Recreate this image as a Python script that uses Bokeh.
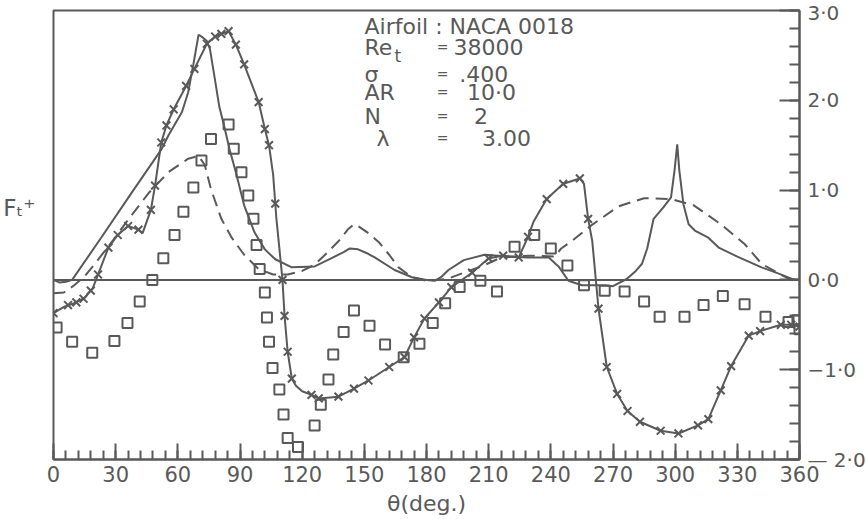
from bokeh.plotting import figure
from bokeh.models import Range1d, FixedTicker, Span, Label, LinearAxis
from bokeh.embed import file_html
from bokeh.resources import INLINE

# ---------------- data ----------------
# theory curve A : solid line, no markers
sol_x = [0, 3, 6, 9, 23, 38, 52, 55.5, 62, 65, 67.5, 70, 72, 74, 75.5, 77.7, 80, 82.5, 85, 88,
         92, 97, 102, 107, 115, 126, 134, 140, 143, 147, 151, 155, 164.6, 173, 180, 184, 187,
         190.6, 198, 208, 219.6, 229, 239, 243.7, 248.5, 255, 266, 270, 276.6, 281, 284, 286.5,
         289.6, 294.4, 298, 299.7, 301, 302, 304, 306.5, 309.5, 316, 321, 330, 341.7, 350, 357.6, 360]
sol_y = [0.00, -0.03, -0.02, 0.00, 0.47, 0.98, 1.45, 1.61, 1.87, 2.09, 2.40, 2.73, 2.70, 2.66, 2.57,
         2.26, 1.93, 1.70, 1.45, 1.20, 0.83, 0.53, 0.34, 0.23, 0.14, 0.15, 0.24, 0.31, 0.35, 0.34,
         0.30, 0.25, 0.11, 0.03, 0.00, -0.01, 0.03, 0.11, 0.22, 0.28, 0.26, 0.25, 0.25, 0.15, -0.01,
         -0.06, -0.06, -0.07, 0.01, 0.10, 0.18, 0.35, 0.68, 0.81, 0.92, 1.22, 1.51, 1.22, 0.84, 0.62,
         0.55, 0.47, 0.36, 0.26, 0.14, 0.07, 0.00, 0.00]

# theory curve B : dashed line
dash_x = [0, 5, 10, 15, 20, 25, 30, 36, 46, 55.5, 65, 70, 73, 76, 81, 86, 92, 99, 106, 113, 120,
          126, 132, 137.5, 142, 145, 147, 152, 157, 162, 166.5, 173, 180, 190, 198, 206.6, 216,
          230, 242, 245, 250, 259.7, 272.7, 285, 298, 309, 322, 333.5, 341.7, 350, 356, 360]
dash_y = [-0.15, -0.14, -0.06, 0.04, 0.18, 0.33, 0.48, 0.67, 0.97, 1.20, 1.35, 1.38, 1.28, 1.01,
          0.68, 0.47, 0.28, 0.12, 0.06, 0.06, 0.10, 0.17, 0.30, 0.43, 0.56, 0.62, 0.60, 0.52, 0.42,
          0.28, 0.14, 0.03, -0.01, 0.01, 0.08, 0.15, 0.25, 0.27, 0.26, 0.35, 0.43, 0.61, 0.82, 0.91,
          0.90, 0.83, 0.62, 0.40, 0.18, 0.07, 0.00, -0.02]

# theory curve C : solid line with x markers
cx_x = [0, 5, 10, 15, 19, 22, 26.5, 31, 36, 41, 43, 47, 49, 52, 54.5, 58, 64, 68, 74, 78, 84.5, 88,
        92, 99, 102, 104, 106, 107.5, 109, 110.5, 111.5, 113, 115, 117, 120, 124.5, 128, 137.5, 145,
        152, 162, 169.4, 174, 179, 186, 192, 202, 210, 217, 224.5, 229, 231.7, 238, 246, 254, 256,
        258, 260, 263, 267, 272, 277, 283, 293, 301.6, 311, 316, 322, 327, 335.5, 341, 351, 356, 360]
cx_y = [-0.37, -0.30, -0.26, -0.20, -0.09, 0.09, 0.36, 0.50, 0.60, 0.56, 0.52, 0.78, 1.05, 1.53,
        1.72, 1.90, 2.16, 2.35, 2.63, 2.71, 2.77, 2.62, 2.40, 1.98, 1.68, 1.50, 1.17, 0.70, 0.35,
        0.00, -0.40, -0.80, -1.10, -1.18, -1.24, -1.28, -1.32, -1.30, -1.21, -1.12, -0.97, -0.86,
        -0.64, -0.43, -0.25, -0.08, 0.08, 0.24, 0.27, 0.25, 0.48, 0.65, 0.90, 1.07, 1.13, 1.07,
        0.68, 0.43, -0.32, -0.97, -1.27, -1.46, -1.58, -1.68, -1.71, -1.62, -1.55, -1.23, -0.96,
        -0.62, -0.57, -0.50, -0.50, -0.52]
mk_x = [0, 7, 11, 14.5, 18, 21.5, 26.5, 31, 36, 41, 47, 49, 52, 54.5, 58, 64, 68, 74, 78, 81, 84.5,
        88, 92, 99, 102, 104, 107, 110.5, 111.5, 113, 115, 124.5, 128, 137.5, 145, 152, 162, 169.4,
        174, 179, 186, 192, 202, 210, 217, 224.5, 229, 238, 246, 254, 258, 263, 267, 272, 277, 283,
        293, 301.6, 311, 316, 322, 327, 335.5, 341, 351, 356, 360]
mk_y = [-0.37, -0.28, -0.25, -0.21, -0.12, 0.06, 0.36, 0.50, 0.60, 0.56, 0.78, 1.05, 1.53, 1.72,
        1.90, 2.16, 2.35, 2.63, 2.71, 2.74, 2.77, 2.62, 2.40, 1.98, 1.68, 1.50, 0.85, 0.00, -0.40,
        -0.80, -1.10, -1.28, -1.32, -1.30, -1.21, -1.12, -0.97, -0.86, -0.64, -0.43, -0.25, -0.08,
        0.08, 0.24, 0.27, 0.25, 0.48, 0.90, 1.07, 1.13, 0.68, -0.32, -0.97, -1.27, -1.46, -1.58,
        -1.68, -1.71, -1.62, -1.55, -1.23, -0.96, -0.62, -0.57, -0.50, -0.50, -0.52]

# experimental points : open squares
sq_x = [1.5, 9, 18.7, 29.4, 35.7, 41.6, 47.7, 53, 58.4, 62.7, 67.5, 71.4, 76, 84.5, 87, 90.7, 94,
        96.5, 98, 99.5, 102, 103, 104, 105.7, 109, 111, 113, 118, 126, 129, 132.7, 135, 140, 145,
        152.5, 160, 169, 176.6, 183, 189, 196, 206, 214, 222.5, 232, 240, 248, 256, 266, 275.6,
        285, 292.5, 304.5, 313.7, 323, 333.5, 343.6, 354.7, 359, 360]
sq_y = [-0.53, -0.69, -0.81, -0.68, -0.48, -0.24, 0.00, 0.24, 0.50, 0.76, 1.03, 1.33, 1.57, 1.73,
        1.46, 1.20, 0.94, 0.68, 0.39, 0.12, -0.14, -0.42, -0.69, -0.98, -1.22, -1.50, -1.76, -1.86,
        -1.62, -1.39, -1.11, -0.83, -0.58, -0.34, -0.51, -0.72, -0.86, -0.71, -0.48, -0.26, -0.08,
        -0.01, -0.13, 0.37, 0.50, 0.35, 0.16, -0.06, -0.12, -0.13, -0.24, -0.41, -0.41, -0.28,
        -0.18, -0.27, -0.41, -0.47, -0.45, -0.55]

x_ticks = [0, 30, 60, 90, 120, 150, 180, 210, 240, 270, 300, 330, 360]
x_minor = [6 * i for i in range(61)]
y_ticks = [-2, -1, 0, 1, 2, 3]
y_minor = [round(-2 + 0.2 * i, 1) for i in range(26)]
y_tick_labels = {-2: "— 2·0", -1: "−1·0", 0: "0·0", 1: "1·0", 2: "2·0", 3: "3·0"}
y_title = "Fₜ⁺"

info_keys = ["Re", "σ", "AR", "N", "λ"]
info_vals = ["38000", ".400", "10·0", "2", "3.00"]

# ---------------- figure ----------------
GRAY = "#595959"
FONT = "DejaVu Sans"

p = figure(frame_width=746, frame_height=449, x_range=Range1d(0, 360), y_range=Range1d(-2, 3),
           output_backend="svg", toolbar_location=None, y_axis_location="right",
           min_border_left=52, min_border_right=0, min_border_top=10, min_border_bottom=0)
p.grid.visible = False
p.outline_line_color = GRAY
p.outline_line_width = 2
p.background_fill_color = "white"
p.border_fill_color = "white"

xa = p.xaxis[0]
xa.ticker = FixedTicker(ticks=x_ticks, minor_ticks=x_minor)
xa.major_label_overrides = {t: str(t) for t in x_ticks}
xa.axis_label = "θ(deg.)"
ya = p.yaxis[0]
ya.ticker = FixedTicker(ticks=y_ticks, minor_ticks=y_minor)
ya.major_label_overrides = y_tick_labels
for ax in (xa, ya):
    ax.axis_line_color = GRAY
    ax.axis_line_width = 2
    ax.major_tick_line_color = GRAY
    ax.minor_tick_line_color = GRAY
    ax.major_tick_line_width = 2
    ax.minor_tick_line_width = 2
    ax.major_tick_out = 0
    ax.minor_tick_out = 0
    ax.major_label_text_font = FONT
    ax.major_label_text_color = GRAY
xa.major_label_text_font_size = "21px"
ya.major_label_text_font_size = "20px"
xa.major_tick_in = 16
xa.minor_tick_in = 9
xa.major_label_standoff = 6
xa.axis_label_text_font = FONT
xa.axis_label_text_font_size = "22px"
xa.axis_label_text_font_style = "normal"
xa.axis_label_text_color = GRAY
xa.axis_label_standoff = 6
ya.major_tick_in = 20
ya.minor_tick_in = 10
ya.major_label_standoff = 8

# left side: the title F_t^+ is carried as the single tick label of a bare axis
la = LinearAxis(ticker=FixedTicker(ticks=[0.8], minor_ticks=[]),
                major_label_overrides={0.8: y_title},
                axis_line_alpha=0, major_tick_in=0, major_tick_out=0,
                minor_tick_in=0, minor_tick_out=0,
                major_label_standoff=18, major_label_text_font=FONT,
                major_label_text_font_size="23px", major_label_text_color=GRAY)
p.add_layout(la, "left")

p.add_layout(Span(location=0, dimension="width", line_color=GRAY, line_width=2))

p.line(sol_x, sol_y, line_color=GRAY, line_width=2)
p.line(dash_x, dash_y, line_color=GRAY, line_width=2, line_dash="12 7")
p.line(cx_x, cx_y, line_color=GRAY, line_width=2)
p.scatter(mk_x, mk_y, marker="x", size=11, line_color=GRAY, line_width=2)
p.scatter(sq_x, sq_y, marker="square", size=10, line_color=GRAY, line_width=2, fill_color=None)


def lab(x, y, text, size, align="left"):
    p.add_layout(Label(x=x, y=y, text=text, text_font=FONT, text_font_size=size,
                       text_color=GRAY, text_baseline="middle", text_align=align))


# parameter block
lab(150.1, 2.82, "Airfoil : NACA 0018", "22px")
rows_y = [2.59, 2.29, 2.09, 1.82, 1.58]
keys_x = [150.1, 150.1, 150.1, 150.1, 155.9]
vals_x = [193.0, 195.8, 199.5, 202.9, 206.8]
for k, v, yy, kx, vx in zip(info_keys, info_vals, rows_y, keys_x, vals_x):
    lab(kx, yy, k, "22px")
    lab(185.0, yy, "=", "14px")
    lab(vx, yy, v, "22px")
lab(164.6, 2.49, "t", "17px")

open("out.html", "w").write(file_html(p, INLINE))
